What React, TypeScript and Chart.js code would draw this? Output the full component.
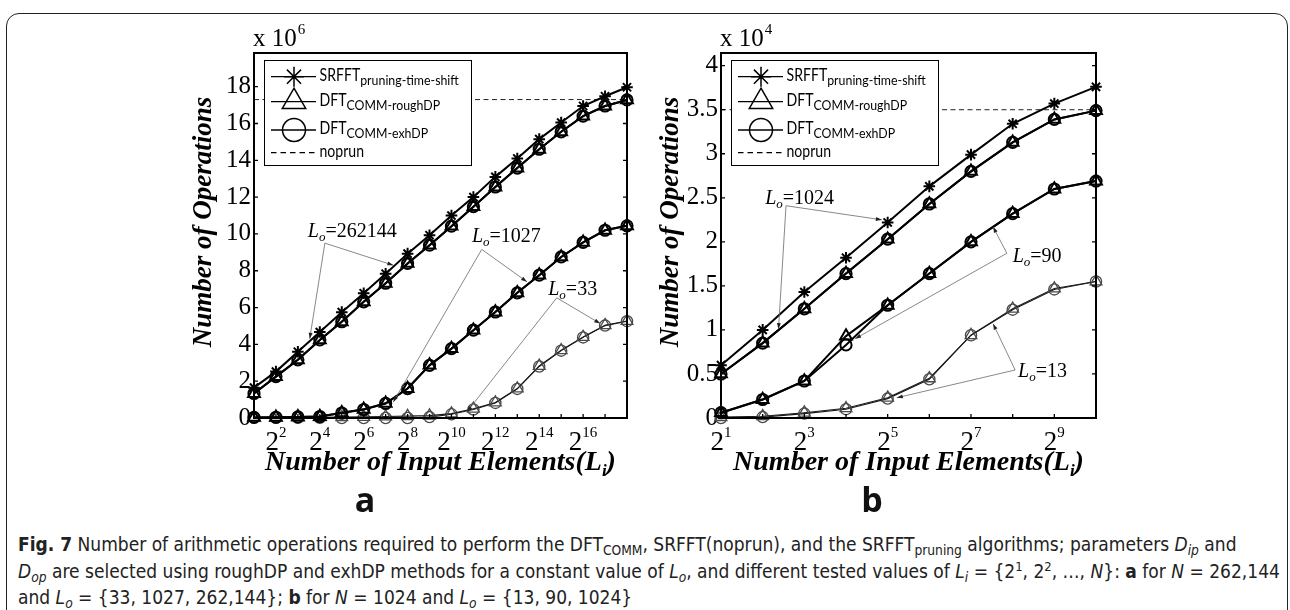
import React, { useEffect, useRef } from 'react';
import { Chart, registerables } from 'chart.js';

Chart.register(...registerables);

// ---------------- Panel a : N = 262144 ----------------
const A_EXPONENTS = [1, 2, 3, 4, 5, 6, 7, 8, 9, 10, 11, 12, 13, 14, 15, 16, 17, 18];
const A_X_TICK_LABEL_EXPONENTS = [2, 4, 6, 8, 10, 12, 14, 16];
const A_Y_TICKS = [0, 2, 4, 6, 8, 10, 12, 14, 16, 18];
const A_SRFFT_262144 = [1.65, 2.52, 3.6, 4.67, 5.75, 6.78, 7.84, 8.93, 9.93, 11.0, 12.0, 13.1, 14.1, 15.15, 16.05, 16.95, 17.48, 17.97];
const A_ROUGH_262144 = [1.33, 2.25, 3.16, 4.24, 5.23, 6.31, 7.32, 8.4, 9.39, 10.42, 11.48, 12.55, 13.58, 14.6, 15.55, 16.4, 16.95, 17.28];
const A_EXH_262144 = [1.33, 2.25, 3.16, 4.24, 5.23, 6.31, 7.32, 8.4, 9.39, 10.42, 11.48, 12.55, 13.58, 14.6, 15.55, 16.4, 16.95, 17.28];
const A_ROUGH_1027 = [0.03, 0.04, 0.06, 0.08, 0.28, 0.47, 0.8, 1.6, 2.87, 3.77, 4.77, 5.76, 6.8, 7.76, 8.75, 9.54, 10.2, 10.44];
const A_EXH_1027 = [0.03, 0.04, 0.06, 0.08, 0.27, 0.46, 0.79, 1.6, 2.86, 3.77, 4.77, 5.76, 6.8, 7.76, 8.75, 9.54, 10.2, 10.44];
const A_ROUGH_33 = [0.02, 0.02, 0.03, 0.04, 0.05, 0.06, 0.08, 0.1, 0.13, 0.24, 0.5, 0.84, 1.6, 2.83, 3.68, 4.4, 5.04, 5.27];
const A_EXH_33 = [0.01, 0.01, 0.01, 0.01, 0.0, 0.0, 0.0, 0.0, 0.05, 0.2, 0.46, 0.82, 1.58, 2.8, 3.66, 4.38, 5.02, 5.26];
const A_NOPRUN = 17.3;

// ---------------- Panel b : N = 1024 ----------------
const B_EXPONENTS = [1, 2, 3, 4, 5, 6, 7, 8, 9, 10];
const B_X_TICK_LABEL_EXPONENTS = [1, 3, 5, 7, 9];
const B_Y_TICKS = [0, 0.5, 1, 1.5, 2, 2.5, 3, 3.5, 4];
const B_SRFFT_1024 = [0.6, 1.0, 1.43, 1.82, 2.22, 2.63, 2.99, 3.34, 3.57, 3.76];
const B_ROUGH_1024 = [0.5, 0.85, 1.24, 1.64, 2.03, 2.43, 2.8, 3.13, 3.39, 3.49];
const B_EXH_1024 = [0.5, 0.85, 1.24, 1.64, 2.03, 2.43, 2.8, 3.13, 3.39, 3.49];
const B_ROUGH_90 = [0.06, 0.21, 0.42, 0.93, 1.28, 1.64, 2.0, 2.32, 2.6, 2.69];
const B_EXH_90 = [0.06, 0.21, 0.42, 0.83, 1.28, 1.64, 2.0, 2.32, 2.6, 2.69];
const B_ROUGH_13 = [0.01, 0.02, 0.06, 0.11, 0.23, 0.45, 0.94, 1.24, 1.47, 1.55];
const B_EXH_13 = [0.0, 0.01, 0.05, 0.1, 0.22, 0.44, 0.94, 1.23, 1.46, 1.55];
const B_NOPRUN = 3.5;

const SERIF = "'Liberation Serif', 'Times New Roman', serif";
const LEGEND_FONT = "Lato, 'Open Sans', sans-serif";
const CAPTION_FONT = "'Liberation Sans Narrow', 'Arial Narrow', 'DejaVu Sans Condensed', sans-serif";

const CANVAS_W = 645;
const CANVAS_H = 520;

type Marker = 'star' | 'triangle' | 'circle';
interface SeriesDef { label: string; values: number[]; marker: Marker; thin?: boolean }
interface AnnDef { lo: string; text: [number, number]; origin: [number, number]; tips: [number, number][] }
interface PanelDef {
  canvasLeft: number;
  area: { left: number; top: number; right: number; bottom: number };
  exps: number[];
  xTickLabels: number[];
  yTicks: number[];
  yMax: number;
  yStep: number;
  scaleExp: string;
  noprun: number;
  series: SeriesDef[];
  annotations: AnnDef[];
  yTitleX: number;
  yTitleY: number;
}

const PANEL_A: PanelDef = {
  canvasLeft: 0,
  area: { left: 254, top: 53, right: 627, bottom: 418 },
  exps: A_EXPONENTS,
  xTickLabels: A_X_TICK_LABEL_EXPONENTS,
  yTicks: A_Y_TICKS,
  yMax: 19.83,
  yStep: 2,
  scaleExp: '6',
  noprun: A_NOPRUN,
  series: [
    { label: 'SRFFT Lo=262144', values: A_SRFFT_262144, marker: 'star' },
    { label: 'roughDP Lo=262144', values: A_ROUGH_262144, marker: 'triangle' },
    { label: 'exhDP Lo=262144', values: A_EXH_262144, marker: 'circle' },
    { label: 'roughDP Lo=1027', values: A_ROUGH_1027, marker: 'triangle' },
    { label: 'exhDP Lo=1027', values: A_EXH_1027, marker: 'circle' },
    { label: 'roughDP Lo=33', values: A_ROUGH_33, marker: 'triangle', thin: true },
    { label: 'exhDP Lo=33', values: A_EXH_33, marker: 'circle', thin: true },
  ],
  annotations: [
    { lo: '262144', text: [3.45, 10.2], origin: [4.23, 9.5], tips: [[7.35, 8.3], [3.54, 4.3]] },
    { lo: '1027', text: [10.93, 9.93], origin: [11.38, 9.16], tips: [[13.44, 7.4], [7.35, 0.87]] },
    { lo: '33', text: [14.41, 7.04], origin: [14.8, 6.53], tips: [[16.78, 5.13], [10.7, 0.33]] },
  ],
  yTitleX: 204,
  yTitleY: 222,
};

const PANEL_B: PanelDef = {
  canvasLeft: 645,
  area: { left: 721, top: 53, right: 1096, bottom: 418 },
  exps: B_EXPONENTS,
  xTickLabels: B_X_TICK_LABEL_EXPONENTS,
  yTicks: B_Y_TICKS,
  yMax: 4.144,
  yStep: 0.5,
  scaleExp: '4',
  noprun: B_NOPRUN,
  series: [
    { label: 'SRFFT Lo=1024', values: B_SRFFT_1024, marker: 'star' },
    { label: 'roughDP Lo=1024', values: B_ROUGH_1024, marker: 'triangle' },
    { label: 'exhDP Lo=1024', values: B_EXH_1024, marker: 'circle' },
    { label: 'roughDP Lo=90', values: B_ROUGH_90, marker: 'triangle' },
    { label: 'exhDP Lo=90', values: B_EXH_90, marker: 'circle' },
    { label: 'roughDP Lo=13', values: B_ROUGH_13, marker: 'triangle', thin: true },
    { label: 'exhDP Lo=13', values: B_EXH_13, marker: 'circle', thin: true },
  ],
  annotations: [
    { lo: '1024', text: [2.06, 2.51], origin: [2.56, 2.41], tips: [[4.86, 2.25], [2.38, 1.01]] },
    { lo: '90', text: [8.0, 1.85], origin: [7.86, 1.87], tips: [[7.53, 2.17], [4.22, 0.9]] },
    { lo: '13', text: [8.13, 0.55], origin: [8.06, 0.545], tips: [[7.53, 1.07], [5.22, 0.23]] },
  ],
  yTitleX: 671,
  yTitleY: 222,
};

function drawText(ctx: CanvasRenderingContext2D, s: string, x: number, y: number, font: string, sx = 1, sy = 1): number {
  ctx.save();
  ctx.translate(x, y);
  ctx.scale(sx, sy);
  ctx.font = font;
  ctx.textAlign = 'left';
  ctx.textBaseline = 'alphabetic';
  ctx.fillText(s, 0, 0);
  const w = ctx.measureText(s).width * sx;
  ctx.restore();
  return w;
}

function measure(ctx: CanvasRenderingContext2D, s: string, font: string, sx = 1): number {
  ctx.save();
  ctx.font = font;
  const w = ctx.measureText(s).width * sx;
  ctx.restore();
  return w;
}

function drawMarker(ctx: CanvasRenderingContext2D, m: Marker, x: number, y: number, r: number) {
  ctx.beginPath();
  if (m === 'circle') {
    ctx.arc(x, y, r, 0, Math.PI * 2);
  } else if (m === 'triangle') {
    for (let k = 0; k < 3; k++) {
      const a = (k * 2 * Math.PI) / 3;
      const px = x + Math.sin(a) * r;
      const py = y - Math.cos(a) * r;
      if (k === 0) ctx.moveTo(px, py); else ctx.lineTo(px, py);
    }
    ctx.closePath();
  } else {
    for (let k = 0; k < 4; k++) {
      const a = (k * Math.PI) / 4;
      ctx.moveTo(x - Math.cos(a) * r, y - Math.sin(a) * r);
      ctx.lineTo(x + Math.cos(a) * r, y + Math.sin(a) * r);
    }
  }
  ctx.stroke();
}

function makeDecor(p: PanelDef) {
  return {
    id: 'decor',
    afterDatasetsDraw(chart: any) {
      const ctx: CanvasRenderingContext2D = chart.ctx;
      const { left, top, right, bottom } = chart.chartArea;
      const xs = chart.scales.x;
      const ys = chart.scales.y;
      const X = (e: number) => xs.getPixelForValue(e);
      const Y = (v: number) => ys.getPixelForValue(v);
      ctx.save();
      ctx.fillStyle = '#000';

      // annotations
      for (const a of p.annotations) {
        const ox = X(a.origin[0]);
        const oy = Y(a.origin[1]);
        for (const t of a.tips) {
          const tx = X(t[0]);
          const ty = Y(t[1]);
          ctx.strokeStyle = '#6a6a6a';
          ctx.lineWidth = 0.8;
          ctx.beginPath();
          ctx.moveTo(ox, oy);
          ctx.lineTo(tx, ty);
          ctx.stroke();
          const ang = Math.atan2(ty - oy, tx - ox);
          ctx.fillStyle = '#222';
          ctx.beginPath();
          ctx.moveTo(tx, ty);
          ctx.lineTo(tx - 6 * Math.cos(ang) + 2 * Math.sin(ang), ty - 6 * Math.sin(ang) - 2 * Math.cos(ang));
          ctx.lineTo(tx - 6 * Math.cos(ang) - 2 * Math.sin(ang), ty - 6 * Math.sin(ang) + 2 * Math.cos(ang));
          ctx.closePath();
          ctx.fill();
        }
        ctx.fillStyle = '#000';
        let x = X(a.text[0]);
        const base = Y(a.text[1]) + 7;
        x += drawText(ctx, 'L', x, base, `italic 20px ${SERIF}`);
        x += drawText(ctx, 'o', x, base + 4, `italic 13px ${SERIF}`);
        drawText(ctx, '=' + a.lo, x, base, `20px ${SERIF}`);
      }

      // legend
      const lx = left + 10.5;
      const ly = 60.5;
      const lw = 207;
      const lh = 105;
      ctx.fillStyle = '#fff';
      ctx.fillRect(lx, ly, lw, lh);
      ctx.strokeStyle = '#000';
      ctx.lineWidth = 1;
      ctx.strokeRect(lx, ly, lw, lh);
      const rows = [
        { y: ly + 16.2, m: 'star' as Marker, r: 10, main: 'SRFFT', sub: 'pruning-time-shift' },
        { y: ly + 41.2, m: 'triangle' as Marker, r: 13.5, main: 'DFT', sub: 'COMM-roughDP' },
        { y: ly + 69.5, m: 'circle' as Marker, r: 11.5, main: 'DFT', sub: 'COMM-exhDP' },
        { y: ly + 92.2, m: null, r: 0, main: 'noprun', sub: '' },
      ];
      for (const row of rows) {
        ctx.strokeStyle = '#000';
        ctx.lineWidth = 1.3;
        ctx.beginPath();
        if (!row.m) ctx.setLineDash([5.5, 4]);
        ctx.moveTo(lx + 6.5, row.y);
        ctx.lineTo(lx + 51.5, row.y);
        ctx.stroke();
        ctx.setLineDash([]);
        if (row.m) {
          ctx.lineWidth = 1.5;
          drawMarker(ctx, row.m, lx + 29.5, row.y, row.r);
        }
        ctx.fillStyle = '#000';
        let tx = lx + 55;
        tx += drawText(ctx, row.main, tx, row.y + 4, `16px ${LEGEND_FONT}`, 0.88, 1.05);
        if (row.sub) drawText(ctx, row.sub, tx, row.y + 8, `13px ${LEGEND_FONT}`, 0.95, 1.05);
      }

      // frame
      ctx.strokeStyle = '#000';
      ctx.lineWidth = 2;
      ctx.strokeRect(left, top, right - left, bottom - top);

      // inward ticks
      ctx.lineWidth = 1.3;
      ctx.beginPath();
      for (const e of p.exps) {
        const px = X(e);
        ctx.moveTo(px, bottom);
        ctx.lineTo(px, bottom - 4);
      }
      for (const v of p.yTicks) {
        const py = Y(v);
        ctx.moveTo(left, py);
        ctx.lineTo(left + 4, py);
        ctx.moveTo(right, py);
        ctx.lineTo(right - 4, py);
      }
      ctx.stroke();

      // x tick labels 2^k
      ctx.fillStyle = '#000';
      const baseFont = `27px ${SERIF}`;
      const supFont = `15px ${SERIF}`;
      for (const e of p.xTickLabels) {
        const w1 = measure(ctx, '2', baseFont);
        const w2 = measure(ctx, String(e), supFont);
        const x0 = X(e) - (w1 + w2) / 2;
        drawText(ctx, '2', x0, 450, baseFont);
        drawText(ctx, String(e), x0 + w1, 436.5, supFont);
      }

      // scale exponent "x 10^n"
      const w10 = drawText(ctx, 'x 10', left - 1, 46, `25px ${SERIF}`);
      drawText(ctx, p.scaleExp, left - 1 + w10 + 1, 34, `15px ${SERIF}`);

      // x title
      const tf = `bold italic 28px ${SERIF}`;
      const sf = `bold italic 17px ${SERIF}`;
      const part1 = 'Number of Input Elements(L';
      const wA = measure(ctx, part1, tf);
      const wB = measure(ctx, 'i', sf);
      const wC = measure(ctx, ')', tf);
      let xt = (left + right) / 2 - (wA + wB + wC) / 2;
      xt += drawText(ctx, part1, xt, 470, tf);
      xt += drawText(ctx, 'i', xt, 476, sf);
      drawText(ctx, ')', xt, 470, tf);

      // y title
      ctx.save();
      ctx.translate(p.yTitleX - p.canvasLeft, p.yTitleY);
      ctx.rotate(-Math.PI / 2);
      ctx.font = `bold italic 27px ${SERIF}`;
      ctx.textAlign = 'center';
      ctx.textBaseline = 'middle';
      ctx.fillText('Number of Operations', 0, 0);
      ctx.restore();

      ctx.restore();
    },
  };
}

function buildConfig(p: PanelDef): any {
  const last = p.exps[p.exps.length - 1];
  const datasets: any[] = [
    {
      label: 'noprun',
      data: [{ x: p.exps[0], y: p.noprun }, { x: last, y: p.noprun }],
      showLine: true,
      borderColor: '#222',
      borderWidth: 1,
      borderDash: [5, 3.5],
      pointRadius: 0,
      clip: false,
      order: 10,
    },
  ];
  p.series.forEach((s, si) => {
    const thin = !!s.thin;
    datasets.push({
      label: s.label,
      data: p.exps.map((e, i) => ({ x: e, y: s.values[i] })),
      showLine: true,
      borderColor: thin ? '#1a1a1a' : '#000',
      borderWidth: thin ? 1.1 : 2,
      pointStyle: s.marker,
      pointRadius: s.marker === 'triangle' ? 6.8 : s.marker === 'circle' ? 5.6 : 5.8,
      pointBorderColor: thin ? '#4a4a4a' : '#000',
      pointBorderWidth: thin ? 1.3 : 2,
      pointBackgroundColor: 'rgba(0,0,0,0)',
      clip: false,
      tension: 0,
      order: si,
    });
  });
  const yAxisWidth = p.area.left - p.canvasLeft;
  return {
    type: 'scatter',
    data: { datasets },
    options: {
      animation: false,
      responsive: false,
      maintainAspectRatio: false,
      devicePixelRatio: 1,
      events: [],
      layout: {
        padding: {
          left: 0,
          top: p.area.top,
          right: p.canvasLeft + CANVAS_W - p.area.right,
          bottom: CANVAS_H - p.area.bottom,
        },
      },
      plugins: { legend: { display: false }, tooltip: { enabled: false } },
      scales: {
        x: { type: 'linear', min: p.exps[0], max: last, display: false },
        y: {
          type: 'linear',
          min: 0,
          max: p.yMax,
          afterFit: (scale: any) => { scale.width = yAxisWidth; },
          grid: { display: false, drawTicks: false },
          border: { display: false },
          ticks: {
            stepSize: p.yStep,
            includeBounds: false,
            autoSkip: false,
            padding: 3,
            color: '#000',
            font: { family: SERIF, size: 25 },
            callback: (v: number) => (p.yTicks.some((t) => Math.abs(t - v) < 1e-6) ? String(v) : ''),
          },
        },
      },
    },
    plugins: [makeDecor(p)],
  };
}

function Panel({ p }: { p: PanelDef }) {
  const ref = useRef<HTMLCanvasElement>(null);
  useEffect(() => {
    const chart = new Chart(ref.current as HTMLCanvasElement, buildConfig(p));
    return () => chart.destroy();
  }, [p]);
  return (
    <canvas
      ref={ref}
      width={CANVAS_W}
      height={CANVAS_H}
      style={{ position: 'absolute', left: p.canvasLeft, top: 0, width: CANVAS_W, height: CANVAS_H }}
    />
  );
}

const subStyle: React.CSSProperties = { fontSize: '0.72em', verticalAlign: '-0.28em', lineHeight: 0 };
const supStyle: React.CSSProperties = { fontSize: '0.68em', verticalAlign: '0.55em', lineHeight: 0 };
const Sub = ({ children }: { children: React.ReactNode }) => <span style={subStyle}>{children}</span>;
const Sup = ({ children }: { children: React.ReactNode }) => <span style={supStyle}>{children}</span>;

export default function App() {
  const lineStyle: React.CSSProperties = { whiteSpace: 'nowrap', height: 26.5, lineHeight: '26.5px' };
  const labelFont = `bold 34px 'Open Sans', 'Liberation Sans', sans-serif`;
  return (
    <div style={{ position: 'absolute', left: 0, top: 0, width: 1290, height: 610, overflow: 'hidden', background: '#fff' }}>
      <div
        style={{
          position: 'absolute', left: 6, top: 13, width: 1282, height: 700,
          border: '1.5px solid #222', borderRadius: 13, boxSizing: 'border-box',
        }}
      />
      <Panel p={PANEL_A} />
      <Panel p={PANEL_B} />
      <div style={{ position: 'absolute', left: 365, top: 476, transform: 'translateX(-50%)', font: labelFont, color: '#111' }}>a</div>
      <div style={{ position: 'absolute', left: 872, top: 476, transform: 'translateX(-50%)', font: labelFont, color: '#111' }}>b</div>
      <div style={{ position: 'absolute', left: 18, top: 531, fontFamily: CAPTION_FONT, fontSize: 19, color: '#222' }}>
        <div style={lineStyle}>
          <b>Fig. 7</b> Number of arithmetic operations required to perform the DFT<Sub>COMM</Sub>, SRFFT(noprun), and the SRFFT<Sub>pruning</Sub> algorithms; parameters <i>D</i><Sub><i>ip</i></Sub> and
        </div>
        <div style={lineStyle}>
          <i>D</i><Sub><i>op</i></Sub> are selected using roughDP and exhDP methods for a constant value of <i>L</i><Sub><i>o</i></Sub>, and different tested values of <i>L</i><Sub><i>i</i></Sub> = {'{'}2<Sup>1</Sup>, 2<Sup>2</Sup>, …, <i>N</i>{'}'}: <b>a</b> for <i>N</i> = 262,144
        </div>
        <div style={lineStyle}>
          and <i>L</i><Sub><i>o</i></Sub> = {'{'}33, 1027, 262,144{'}'}; <b>b</b> for <i>N</i> = 1024 and <i>L</i><Sub><i>o</i></Sub> = {'{'}13, 90, 1024{'}'}
        </div>
      </div>
    </div>
  );
}
